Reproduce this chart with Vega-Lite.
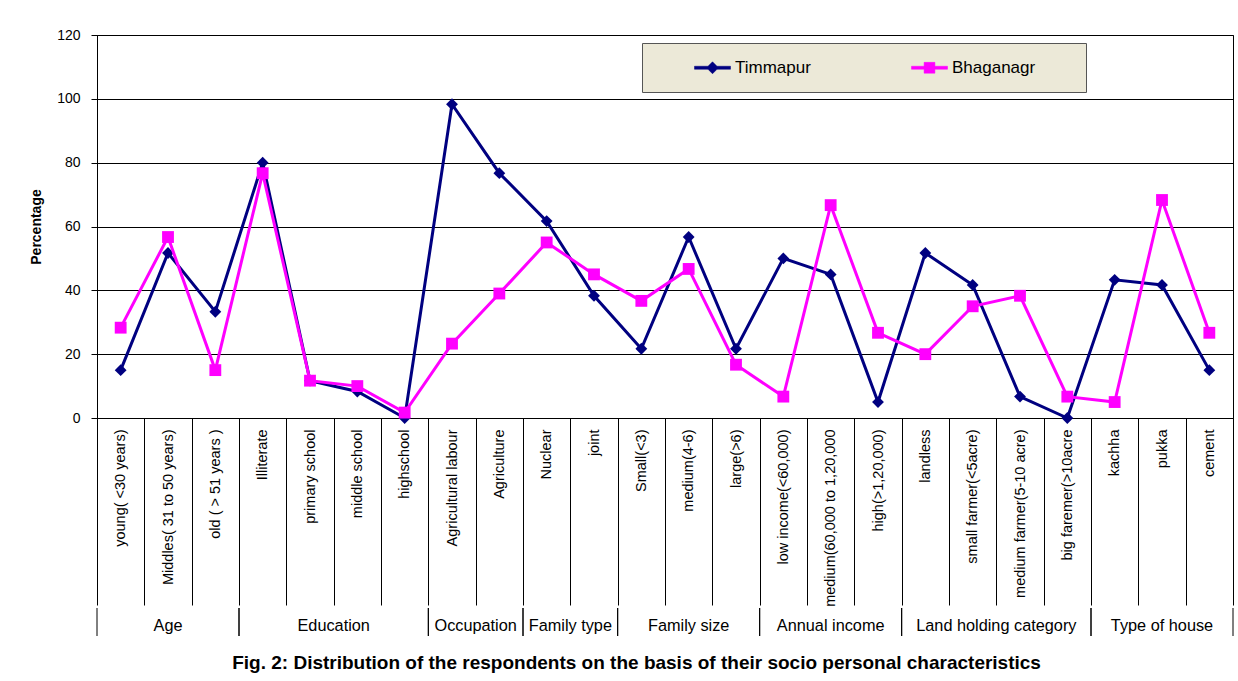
{
  "$schema": "https://vega.github.io/schema/vega-lite/v6.json",
  "padding": {"left": 29, "top": 27, "right": 6, "bottom": 10},
  "background": "white",
  "config": {
    "font": "Liberation Sans",
    "view": {"stroke": "black", "strokeWidth": 1}
  },
  "title": {
    "text": "Fig. 2: Distribution of the respondents on the basis of their socio personal characteristics",
    "orient": "bottom",
    "anchor": "middle",
    "frame": "bounds",
    "fontSize": 19,
    "fontWeight": "bold",
    "color": "black",
    "offset": 17,
    "dx": 5
  },
  "datasets": {
    "table": [
      {"group": "Age", "category": "young( <30 years)", "Timmapur": 15, "Bhaganagr": 28.3},
      {"group": "Age", "category": "Middles( 31 to 50 years)", "Timmapur": 51.7, "Bhaganagr": 56.7},
      {"group": "Age", "category": "old ( > 51 years )", "Timmapur": 33.3, "Bhaganagr": 15},
      {"group": "Education", "category": "Illiterate", "Timmapur": 80, "Bhaganagr": 76.7},
      {"group": "Education", "category": "primary school", "Timmapur": 11.7, "Bhaganagr": 11.7},
      {"group": "Education", "category": "middle school", "Timmapur": 8.3, "Bhaganagr": 10},
      {"group": "Education", "category": "highschool", "Timmapur": 0, "Bhaganagr": 1.7},
      {"group": "Occupation", "category": "Agricultural labour", "Timmapur": 98.3, "Bhaganagr": 23.3},
      {"group": "Occupation", "category": "Agriculture", "Timmapur": 76.7, "Bhaganagr": 39},
      {"group": "Family type", "category": "Nuclear", "Timmapur": 61.7, "Bhaganagr": 55},
      {"group": "Family type", "category": "joint", "Timmapur": 38.3, "Bhaganagr": 45},
      {"group": "Family size", "category": "Small(<3)", "Timmapur": 21.7, "Bhaganagr": 36.7},
      {"group": "Family size", "category": "medium(4-6)", "Timmapur": 56.7, "Bhaganagr": 46.7},
      {"group": "Family size", "category": "large(>6)", "Timmapur": 21.7, "Bhaganagr": 16.7},
      {"group": "Annual income", "category": "low income(<60,000)", "Timmapur": 50, "Bhaganagr": 6.7},
      {"group": "Annual income", "category": "medium(60,000 to 1,20,000", "Timmapur": 45, "Bhaganagr": 66.7},
      {"group": "Annual income", "category": "high(>1,20,000)", "Timmapur": 5, "Bhaganagr": 26.7},
      {"group": "Land holding category", "category": "landless", "Timmapur": 51.7, "Bhaganagr": 20},
      {"group": "Land holding category", "category": "small farmer(<5acre)", "Timmapur": 41.7, "Bhaganagr": 35},
      {"group": "Land holding category", "category": "medium farmer(5-10 acre)", "Timmapur": 6.7, "Bhaganagr": 38.3},
      {"group": "Land holding category", "category": "big faremer(>10acre", "Timmapur": 0, "Bhaganagr": 6.7},
      {"group": "Type of house", "category": "kachha", "Timmapur": 43.3, "Bhaganagr": 5},
      {"group": "Type of house", "category": "pukka", "Timmapur": 41.7, "Bhaganagr": 68.3},
      {"group": "Type of house", "category": "cement", "Timmapur": 15, "Bhaganagr": 26.7}
    ]
  },
  "spacing": 0,
  "vconcat": [
    {
      "width": 1136,
      "height": 383,
      "data": {"name": "table"},
      "transform": [{"fold": ["Timmapur", "Bhaganagr"], "as": ["series", "value"]}],
      "encoding": {
        "x": {
          "field": "category",
          "type": "nominal",
          "sort": null,
          "bandPosition": 0.5,
          "scale": {"type": "band", "paddingInner": 0, "paddingOuter": 0},
          "axis": {
            "title": null,
            "labelAngle": -90,
            "labelFontSize": 14.5,
            "labelColor": "black",
            "labelPadding": -176,
            "labelLimit": 400,
            "labelOverlap": false,
            "labelBound": false,
            "tickBand": "extent",
            "tickSize": 187,
            "tickColor": "black",
            "tickWidth": 1,
            "domainColor": "black",
            "grid": false
          }
        },
        "y": {
          "field": "value",
          "type": "quantitative",
          "scale": {"domain": [0, 120], "nice": false},
          "axis": {
            "title": "Percentage",
            "titleFontSize": 14,
            "titleFontWeight": "bold",
            "titleColor": "black",
            "titlePadding": 13,
            "values": [0, 20, 40, 60, 80, 100, 120],
            "labelFontSize": 14,
            "labelColor": "black",
            "labelPadding": 11,
            "tickSize": 6,
            "tickColor": "black",
            "domainColor": "black",
            "grid": true,
            "gridColor": "black",
            "gridWidth": 1
          }
        },
        "color": {
          "field": "series",
          "type": "nominal",
          "scale": {"domain": ["Timmapur", "Bhaganagr"], "range": ["#000080", "#FF00FF"]},
          "legend": {
            "title": "W",
            "titleOrient": "right",
            "titleColor": "transparent",
            "titleFontSize": 17,
            "titlePadding": 18,
            "orient": "none",
            "legendX": 545,
            "legendY": 8,
            "direction": "horizontal",
            "fillColor": "#ECE9D8",
            "strokeColor": "#555555",
            "padding": 16,
            "symbolSize": 144,
            "symbolOffset": 46,
            "labelOffset": 14,
            "columnPadding": 64,
            "labelFontSize": 17,
            "labelColor": "black",
            "encode": {
              "symbols": {
                "update": {
                  "shape": {"signal": "datum.value === 'Timmapur' ? 'M-3,-0.25H-0.75L0,-1L0.75,-0.25H3V0.25H0.75L0,1L-0.75,0.25H-3Z' : 'M-3,-0.25H-0.9V-0.9H0.9V-0.25H3V0.25H0.9V0.9H-0.9V0.25H-3Z'"},
                  "strokeWidth": {"value": 0.5},
                  "opacity": {"value": 1}
                }
              }
            }
          }
        }
      },
      "layer": [
        {
          "transform": [{"filter": "datum.series === 'Timmapur'"}],
          "mark": {"type": "line", "strokeWidth": 3}
        },
        {
          "transform": [{"filter": "datum.series === 'Timmapur'"}],
          "mark": {"type": "point", "shape": "diamond", "filled": true, "size": 140, "opacity": 1}
        },
        {
          "transform": [{"filter": "datum.series === 'Bhaganagr'"}],
          "mark": {"type": "line", "strokeWidth": 3}
        },
        {
          "transform": [{"filter": "datum.series === 'Bhaganagr'"}],
          "mark": {"type": "point", "shape": "square", "filled": true, "size": 140, "opacity": 1}
        }
      ]
    },
    {
      "width": 1136,
      "height": 28,
      "view": {"stroke": null},
      "data": {"name": "table"},
      "transform": [
        {"window": [{"op": "row_number", "as": "rn"}]},
        {"aggregate": [{"op": "min", "field": "rn", "as": "first"}, {"op": "max", "field": "rn", "as": "last"}], "groupby": ["group"]},
        {"calculate": "datum.first - 1", "as": "start"},
        {"calculate": "(datum.first - 1 + datum.last) / 2", "as": "mid"}
      ],
      "layer": [
        {
          "mark": {"type": "rule", "color": "black", "strokeWidth": 1},
          "encoding": {"x": {"field": "start", "type": "quantitative", "scale": {"nice": false, "zero": true}, "axis": null}}
        },
        {
          "mark": {"type": "rule", "color": "black", "strokeWidth": 1},
          "encoding": {"x": {"field": "last", "type": "quantitative"}}
        },
        {
          "mark": {"type": "text", "fontSize": 16.3, "color": "black", "dy": 4},
          "encoding": {
            "x": {"field": "mid", "type": "quantitative"},
            "text": {"field": "group"}
          }
        }
      ]
    }
  ]
}
